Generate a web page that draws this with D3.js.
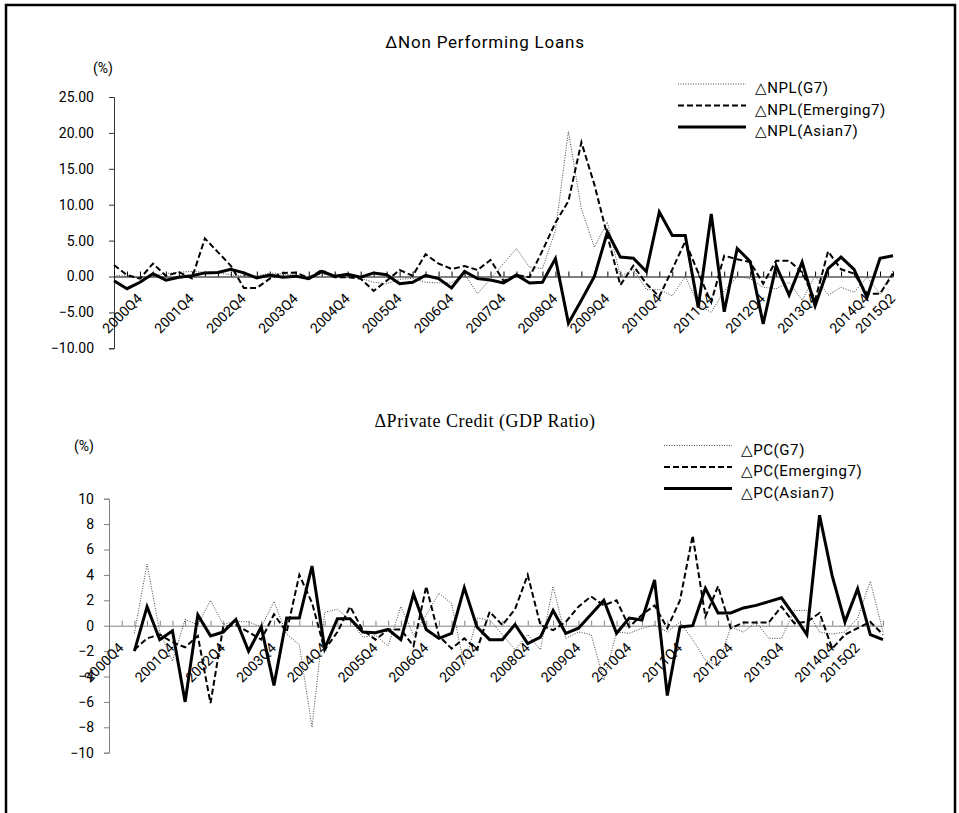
<!DOCTYPE html>
<html>
<head>
<meta charset="utf-8">
<script src="https://cdn.jsdelivr.net/npm/d3@7"></script>
<style>
body { margin: 0; background: #fff; }
svg text { font-family: Roboto, "DejaVu Sans", sans-serif; fill: #000; }
</style>
</head>
<body>
<div class="chart"></div>
<script>
// quarter labels, e.g. quarters(2000, 2, 2015, 2) -> 2000Q2 ... 2015Q2
function quarters(y0, q0, y1, q1) {
    var out = [];
    for (var y = y0; y <= y1; y++) {
        for (var q = 1; q <= 4; q++) {
            if (y === y0 && q < q0) continue;
            if (y === y1 && q > q1) continue;
            out.push(y + "Q" + q);
        }
    }
    return out;
}

// ---- Non Performing Loans (top) ----
var nplQuarters = quarters(2000, 2, 2015, 2);
var nplLabels = ["2000Q4", "2001Q4", "2002Q4", "2003Q4", "2004Q4", "2005Q4", "2006Q4", "2007Q4",
    "2008Q4", "2009Q4", "2010Q4", "2011Q4", "2012Q4", "2013Q4", "2014Q4", "2015Q2"];
var nplTicks = [25, 20, 15, 10, 5, 0, -5, -10];
var nplG7 = [0.15, 0.05, -0.3, 0.1, 0.4, 0.6, 0.7, 0.6, 0.6, 0.2, 0.1, 0.05, 0.5, 0.35, 0.2, -0.1,
    0.35, 0.1, 0.1, -0.25, -0.8, -1.0, -0.4, -0.25, -0.8, -0.9, -0.9, 0.35, -2.4, -0.3, 1.8, 3.9,
    1.3, 1.1, 6.4, 20.2, 9.4, 4.1, 7.6, 0.0, 1.0, -1.8, -1.8, -2.7, 0.0, -3.9, -5.0, -2.0,
    0.0, -0.3, -1.5, -1.7, -0.8, -3.3, 0.1, -2.6, -1.5, -2.2, -0.1, -2.4, 0.8];
var nplEmerging = [1.6, 0.2, -0.3, 1.8, 0.1, 0.6, -0.25, 5.3, 3.4, 1.5, -1.6, -1.6, -0.3, 0.5, 0.55, -0.2,
    0.9, -0.1, -0.1, -0.3, -2.0, -0.6, 0.9, 0.1, 3.1, 1.8, 1.05, 1.45, 0.9, 2.3, -0.6, 0.2,
    -0.1, 3.6, 7.5, 10.5, 18.7, 12.8, 5.7, -1.2, 1.5, -1.0, -2.8, 1.0, 4.9, 0.5, -3.6, 2.9,
    2.4, 2.0, -1.0, 2.2, 2.2, 0.6, -3.3, 3.5, 1.0, 0.4, -2.4, -2.4, 0.4];
var nplAsian = [-0.6, -1.7, -0.8, 0.4, -0.5, -0.1, 0.1, 0.5, 0.55, 1.0, 0.5, -0.2, 0.2, -0.1, 0.05, -0.3,
    0.7, 0.05, 0.3, -0.1, 0.5, 0.25, -1.0, -0.8, 0.15, -0.3, -1.6, 0.7, -0.3, -0.5, -0.9, 0.2,
    -0.9, -0.8, 2.5, -6.5, -3.3, 0.0, 6.2, 2.7, 2.55, 0.7, 9.0, 5.7, 5.7, -4.3, 8.7, -4.9,
    3.9, 2.1, -6.6, 1.5, -2.6, 2.0, -4.1, 1.1, 2.7, 1.0, -2.9, 2.55, 2.9];

// ---- Private Credit (bottom) ----
var pcQuarters = quarters(2000, 3, 2015, 4);
var pcLabels = nplLabels;
var pcTicks = [10, 8, 6, 4, 2, 0, -2, -4, -6, -8, -10];
var pcG7 = [null, null, -0.6, 4.85, -0.5, -2.8, 0.5, 0.05, 2.0, 0.1, 0.35, 0.3, -0.1, 1.9, -0.65, -1.5,
    -8.0, 1.05, 1.3, 0.45, -0.9, -0.75, -1.6, 1.5, -0.75, 0.85, 2.55, 1.75, -3.2, 0.6, 0.45, -0.7,
    -1.9, -0.7, -1.9, 3.1, -1.0, -0.5, -0.7, -4.3, -0.5, -0.6, -0.2, 0.05, -0.5, 0.3, -1.1, -2.7,
    -3.2, -0.1, -0.5, 0.3, -1.0, -1.0, 1.2, 1.2, -0.5, -0.65, -0.5, 0.6, 3.5, -0.5];
var pcEmerging = [null, null, -1.9, -1.0, -0.7, -1.3, -1.7, -0.8, -6.1, -0.1, 0.05, -0.5, -1.1, 0.9, -0.5, 4.0,
    1.8, -1.9, -0.5, 1.5, -0.35, -1.1, -0.3, -0.3, -1.6, 3.1, -0.8, -1.8, -1.0, -1.9, 1.1, 0.05,
    1.3, 4.0, 0.05, -0.35, 0.3, 1.5, 2.3, 1.6, 2.0, -0.1, 0.85, 1.6, -0.2, 2.0, 7.1, 0.7,
    3.1, -0.2, 0.25, 0.25, 0.25, 1.5, 0.2, 0.3, 1.0, -1.8, -0.7, -0.2, 0.3, -0.7];
var pcAsian = [null, null, -2.0, 1.5, -1.1, -0.4, -6.0, 0.85, -0.8, -0.5, 0.5, -2.0, -0.1, -4.7, 0.6, 0.6,
    4.7, -1.8, 0.55, 0.55, -0.5, -0.55, -0.3, -1.1, 2.5, -0.3, -1.0, -0.6, 3.0, -0.1, -1.1, -1.1,
    0.1, -1.4, -0.9, 1.2, -0.6, -0.2, 0.9, 2.0, -0.6, 0.6, 0.45, 3.6, -5.5, -0.1, 0.0, 2.95,
    1.0, 1.0, 1.4, 1.6, 1.9, 2.2, 0.8, -0.7, 8.7, 3.9, 0.3, 2.9, -0.7, -1.1];

var lineStyles = [
    { width: 1, dash: "1,1.5", color: "#444" },
    { width: 2, dash: "6,3", color: "#000" },
    { width: 3, dash: null, color: "#000" }
];

var panels = [
    {
        title: "\u0394Non Performing Loans", titleFont: "Roboto, sans-serif", titleSize: 17,
        titleSpacing: 0.8, titleY: 48,
        unitX: 113, unitY: 73,
        cats: nplQuarters, labels: nplLabels, ticks: nplTicks, fmt: d3.format(".2f"), tickPad: 15,
        series: [nplG7, nplEmerging, nplAsian],
        names: ["\u25B3NPL(G7)", "\u25B3NPL(Emerging7)", "\u25B3NPL(Asian7)"],
        left: 114, right: 893, top: 97, bottom: 348.3, domain: [-10, 25],
        axisColor: "#000", yAxisColor: "#333",
        legendX: 678, legendY: 84
    },
    {
        title: "\u0394Private Credit (GDP Ratio)", titleFont: "'Liberation Serif', serif", titleSize: 18,
        titleSpacing: 0.5, titleY: 427,
        unitX: 94, unitY: 451,
        cats: pcQuarters, labels: pcLabels, ticks: pcTicks, fmt: d3.format("d"), tickPad: 10,
        series: [pcG7, pcEmerging, pcAsian],
        names: ["\u25B3PC(G7)", "\u25B3PC(Emerging7)", "\u25B3PC(Asian7)"],
        left: 109, right: 883, top: 498.7, bottom: 752.7, domain: [-10, 10],
        axisColor: "#808080", yAxisColor: "#808080",
        legendX: 664, legendY: 445.5
    }
];

var svg = d3.select(".chart").append("svg")
    .attr("width", 959)
    .attr("height", 813);

svg.append("rect")
    .attr("x", 6).attr("y", 5)
    .attr("width", 949).attr("height", 830)
    .attr("fill", "none")
    .attr("stroke", "#000")
    .attr("stroke-width", 2.5);

panels.forEach(drawPanel);

function drawPanel(p) {
    var g = svg.append("g");

    var x = d3.scalePoint().domain(p.cats).range([p.left, p.right]);
    var y = d3.scaleLinear().domain(p.domain).range([p.bottom, p.top]);
    var y0 = y(0);

    // title and unit
    g.append("text")
        .attr("x", 485).attr("y", p.titleY)
        .attr("text-anchor", "middle")
        .style("font-family", p.titleFont)
        .style("font-size", p.titleSize + "px")
        .style("letter-spacing", p.titleSpacing + "px")
        .text(p.title);

    g.append("text")
        .attr("x", p.unitX).attr("y", p.unitY)
        .attr("text-anchor", "end")
        .style("font-size", "14px")
        .text("(%)");

    // y axis
    var yAxis = g.append("g")
        .attr("transform", `translate(${p.left},0)`)
        .call(d3.axisLeft(y).tickValues(p.ticks).tickFormat(p.fmt).tickSize(5).tickPadding(p.tickPad));
    yAxis.select(".domain").attr("stroke", p.yAxisColor);
    yAxis.selectAll(".tick line").attr("stroke", p.yAxisColor);
    yAxis.selectAll(".tick text")
        .style("font-family", "Roboto, sans-serif")
        .style("font-size", "14px")
        .attr("fill", "#000");

    // x axis along zero, ticks pointing up
    var xAxis = g.append("g")
        .attr("transform", `translate(0,${y0})`)
        .call(d3.axisTop(x).tickSize(5).tickSizeOuter(0).tickFormat(""));
    xAxis.select(".domain").attr("stroke", p.axisColor);
    xAxis.selectAll(".tick line").attr("stroke", p.axisColor);

    // category labels, rotated
    g.selectAll(".xlab")
        .data(p.labels)
        .enter()
        .append("text")
        .attr("class", "xlab")
        .attr("text-anchor", "end")
        .attr("transform", d => `translate(${x(d) + 3},${y0 + 23}) rotate(-45)`)
        .style("font-size", "14px")
        .text(d => d);

    // lines
    var line = d3.line()
        .defined(d => d.v !== null)
        .x(d => x(d.c))
        .y(d => y(d.v));

    p.series.forEach(function (vals, k) {
        var st = lineStyles[k];
        var pts = vals.map((v, i) => ({ c: p.cats[i], v: v }));
        g.append("path")
            .datum(pts)
            .attr("d", line)
            .attr("fill", "none")
            .attr("stroke", st.color)
            .attr("stroke-width", st.width)
            .attr("stroke-dasharray", st.dash)
            .attr("stroke-linejoin", "miter");
    });

    // legend
    p.names.forEach(function (name, k) {
        var st = lineStyles[k];
        var ly = p.legendY + k * 21.5;
        g.append("line")
            .attr("x1", p.legendX).attr("x2", p.legendX + 68)
            .attr("y1", ly).attr("y2", ly)
            .attr("stroke", st.color)
            .attr("stroke-width", st.width)
            .attr("stroke-dasharray", st.dash);
        g.append("text")
            .attr("x", p.legendX + 77)
            .attr("y", ly + 9)
            .style("font-size", "15px")
            .style("letter-spacing", "0.6px")
            .text(name);
    });
}
</script>
</body>
</html>
